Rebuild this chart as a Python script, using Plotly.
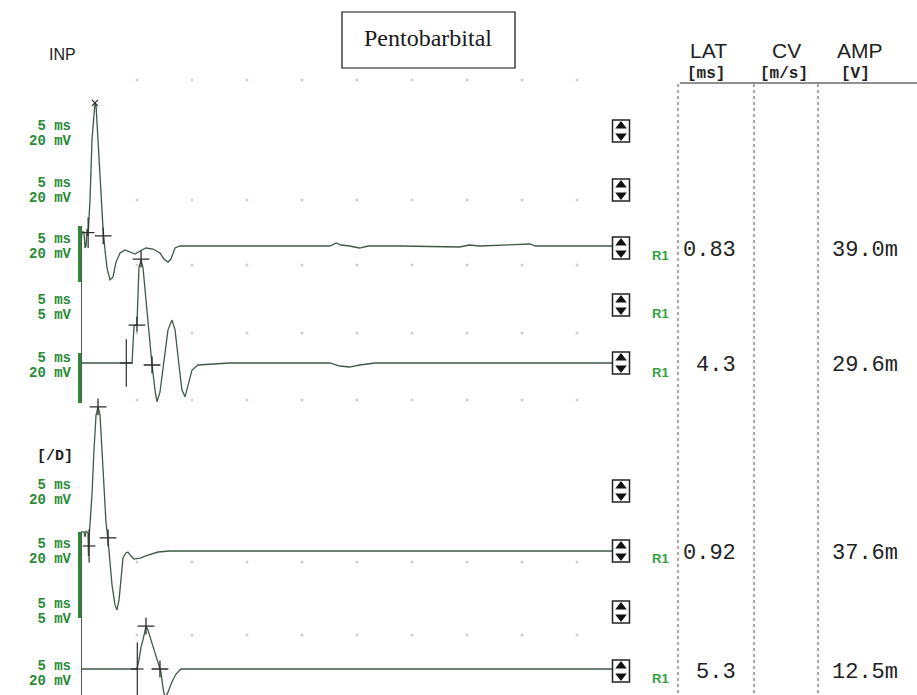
import plotly.graph_objects as go

W, H = 917, 695
PX_PER_MS = 11.0
T0_PX = 79.0
PX_PER_MV = 3.35

# ---------------- data (ms, mV) ----------------
tr3_t = [0.18, 0.27, 0.45, 0.55, 0.64, 0.73, 0.82, 1.0, 1.18, 1.36, 1.45, 1.55, 1.73, 1.91, 2.18, 2.36, 2.55, 2.82,
         3.09, 3.36, 3.73, 4.18, 4.64, 5.09, 5.55, 6.09, 6.73, 7.36, 7.73, 8.09, 8.36, 8.73, 9.18, 11.0, 15.5, 22.8,
         23.4, 23.8, 24.6, 25.5, 26.3, 29.2, 34.6, 35.5, 36.4, 41.0, 41.5, 48.5]
tr3_v = [0.0, 4.2, 4.2, -0.6, 0.0, 5.1, 3.0, 13.7, 31.6, 41.2, 42.7, 41.8, 31.6, 19.7, 5.4, -1.2, -6.6, -10.1,
         -9.3, -4.8, -2.1, -1.2, -1.8, -2.4, -1.5, -0.6, -0.9, -2.1, -3.9, -4.8, -3.9, -0.6, 0.0, 0.0, 0.0, 0.0,
         0.9, 0.3, 0.0, -0.6, 0.0, 0.0, -0.3, 0.3, 0.0, 0.6, 0.0, 0.0]
tr3_peak = ([1.45], [42.7])
tr3_cross = ([2.2], [3.0])

tr5_t = [0.18, 4.27, 4.82, 4.91, 5.0, 5.27, 5.36, 5.45, 5.64, 5.82, 6.09, 6.36, 6.64, 6.91, 7.09, 7.36, 7.73, 8.09,
         8.45, 8.73, 9.09, 9.36, 9.64, 9.91, 10.27, 10.82, 11.9, 13.7, 22.8, 23.7, 24.6, 25.5, 26.9, 48.5]
tr5_v = [0.0, 0.0, 0.0, 5.4, 11.0, 11.6, 18.8, 28.4, 30.7, 28.4, 18.8, 8.4, -0.6, -8.1, -11.6, -8.7, 0.9, 9.9,
         12.8, 9.9, -0.6, -8.1, -10.1, -6.6, -2.1, -0.6, -0.3, 0.0, 0.0, -0.9, -1.2, -0.6, 0.0, 0.0]
tr5_cross = ([5.27, 5.64, 6.64], [11.3, 31.0, -0.6])

tr8_t = [0.18, 0.45, 0.55, 0.64, 0.82, 0.86, 0.95, 1.18, 1.36, 1.55, 1.73, 1.91, 2.09, 2.27, 2.45, 2.64, 2.82, 3.0,
         3.27, 3.45, 3.64, 3.82, 4.0, 4.27, 4.45, 4.73, 5.0, 5.55, 6.27, 7.18, 8.27, 48.5]
tr8_v = [5.7, 5.7, 4.2, 6.0, 5.4, -1.5, 5.7, 16.7, 30.1, 40.6, 43.0, 40.6, 30.1, 18.2, 8.7, 3.3, -2.7, -10.1,
         -16.1, -17.6, -14.6, -7.2, -2.1, -0.6, -0.3, -1.5, -2.4, -2.1, -1.2, -0.3, 0.0, 0.0]
tr8_cross = ([1.73, 2.64], [43.0, 3.9])

tr10_t = [0.18, 5.27, 5.45, 5.55, 5.64, 5.82, 6.0, 6.09, 6.27, 6.55, 6.91, 7.27, 7.45, 7.64, 7.82, 8.09, 8.45,
          8.82, 9.27, 48.5]
tr10_v = [0.0, 0.0, 2.7, 5.7, 6.6, 8.7, 12.2, 12.8, 11.6, 8.7, 5.1, 1.5, -0.9, -5.7, -8.7, -6.9, -3.9, -1.5,
          0.0, 0.0]
tr10_cross = ([6.09, 7.36], [12.8, 0.0])

lat_ms = [0.83, 4.3, 0.92, 5.3]
lat_text = ["0.83", "4.3", "0.92", "5.3"]
amp_text = ["39.0m", "29.6m", "37.6m", "12.5m"]

row_scale_top = [" 5 ms"] * 9
row_scale_bot = ["20 mV", "20 mV", "20 mV", " 5 mV", "20 mV", "20 mV", "20 mV", " 5 mV", "20 mV"]

# ---------------- layout constants (pixels) ----------------
row_label_y = [126, 183, 239, 300, 358, 485, 544, 604, 666]
icon_y = [131, 190, 248, 305, 363, 491, 551, 612, 671]
trace_base = [246, 363, 551, 669]
value_y = [250, 365, 553, 672]
r1_y = [255, 313, 372, 558, 678]
grid_rows = [80, 200, 265, 333, 400, 562, 635]
grid_cols = [137 + 55 * k for k in range(9)]

TRACE_COL = "#3e5a46"
GREEN = "#2a8a36"
MARK_COL = "#2b2b2b"

fig = go.Figure()

# base subplot (needed so overlaying axes render)
fig.add_trace(go.Scatter(x=[None], y=[None], xaxis="x", yaxis="y", mode="markers",
                         hoverinfo="skip", showlegend=False))

# grid dots (pixel layer)
gx, gy = [], []
for r in grid_rows:
    for c in grid_cols:
        gx.append(c)
        gy.append(r)
fig.add_trace(go.Scatter(x=gx, y=gy, xaxis="x2", yaxis="y", mode="markers",
                         marker=dict(size=3, color="#cfcfcf"), hoverinfo="skip", showlegend=False))

traces = [(tr3_t, tr3_v, [tr3_cross], "y2"), (tr5_t, tr5_v, [tr5_cross], "y3"),
          (tr8_t, tr8_v, [tr8_cross], "y4"), (tr10_t, tr10_v, [tr10_cross], "y5")]
lat_vals = [4.0, 0.0, 1.5, 0.0]
lat_sizes = [22, 34, 24, 38]
for i, (t, v, crosses, ya) in enumerate(traces):
    fig.add_trace(go.Scatter(x=t, y=v, xaxis="x", yaxis=ya, mode="lines",
                             line=dict(color=TRACE_COL, width=1.3), hoverinfo="skip", showlegend=False))
    for cx, cy in crosses:
        fig.add_trace(go.Scatter(x=cx, y=cy, xaxis="x", yaxis=ya, mode="markers",
                                 marker=dict(symbol="cross-thin", size=12, line=dict(color=MARK_COL, width=1.3)),
                                 hoverinfo="skip", showlegend=False))
    # latency marker
    fig.add_trace(go.Scatter(x=[lat_ms[i]], y=[lat_vals[i]], xaxis="x", yaxis=ya, mode="markers",
                             marker=dict(symbol="line-ns", size=lat_sizes[i], line=dict(color=MARK_COL, width=1.2)),
                             hoverinfo="skip", showlegend=False))
    fig.add_trace(go.Scatter(x=[lat_ms[i]], y=[lat_vals[i]], xaxis="x", yaxis=ya, mode="markers",
                             marker=dict(symbol="line-ew", size=9, line=dict(color=MARK_COL, width=1.2)),
                             hoverinfo="skip", showlegend=False))

fig.add_trace(go.Scatter(x=tr3_peak[0], y=tr3_peak[1], xaxis="x", yaxis="y2", mode="markers",
                         marker=dict(symbol="x-thin", size=6, line=dict(color=MARK_COL, width=1.2)),
                         hoverinfo="skip", showlegend=False))

# scroll icons
fig.add_trace(go.Scatter(x=[621] * len(icon_y), y=[c - 5 for c in icon_y], xaxis="x2", yaxis="y",
                         mode="markers", marker=dict(symbol="triangle-up", size=10, color="#111"),
                         hoverinfo="skip", showlegend=False))
fig.add_trace(go.Scatter(x=[621] * len(icon_y), y=[c + 5 for c in icon_y], xaxis="x2", yaxis="y",
                         mode="markers", marker=dict(symbol="triangle-down", size=10, color="#111"),
                         hoverinfo="skip", showlegend=False))

shapes = []
for c in icon_y:
    shapes.append(dict(type="rect", xref="x2", yref="y", x0=612.5, x1=629.5, y0=c - 11, y1=c + 11,
                       line=dict(color="#222", width=1.5), layer="above"))
# title box
shapes.append(dict(type="rect", xref="x2", yref="y", x0=342, x1=515, y0=12, y1=68,
                   line=dict(color="#111", width=1.2)))
# table lines
shapes.append(dict(type="line", xref="x2", yref="y", x0=680, x1=917, y0=83, y1=83,
                   line=dict(color="#222", width=1.2)))
for xv in [678, 754, 818]:
    shapes.append(dict(type="line", xref="x2", yref="y", x0=xv, x1=xv, y0=84, y1=695,
                       line=dict(color="#555", width=1, dash="dot")))
# scale bars at trace origin
shapes.append(dict(type="line", xref="x2", yref="y", x0=81.5, x1=81.5, y0=226, y1=403,
                   line=dict(color="#555", width=1)))
shapes.append(dict(type="line", xref="x2", yref="y", x0=79.5, x1=79.5, y0=226, y1=282,
                   line=dict(color=GREEN, width=3)))
shapes.append(dict(type="line", xref="x2", yref="y", x0=79.5, x1=79.5, y0=353, y1=403,
                   line=dict(color=GREEN, width=3)))
shapes.append(dict(type="line", xref="x2", yref="y", x0=81.5, x1=81.5, y0=532, y1=695,
                   line=dict(color="#555", width=1)))
shapes.append(dict(type="line", xref="x2", yref="y", x0=79.5, x1=79.5, y0=532, y1=618,
                   line=dict(color=GREEN, width=3)))

ann = []
def A(x, y, text, size, color="#222", family="Liberation Sans", anchor="center", bold=False):
    if bold:
        text = "<b>" + text + "</b>"
    ann.append(dict(x=x, y=y, xref="x2", yref="y", text=text, showarrow=False, xanchor=anchor,
                    yanchor="middle", font=dict(size=size, color=color, family=family), borderpad=0))

A(428, 38, "Pentobarbital", 24, color="#1a1a1a", family="Liberation Serif")
A(62, 54, "INP", 16, color="#222")
A(55, 456, "[/D]", 15, color="#222", family="Liberation Mono", bold=True)
for i, y in enumerate(row_label_y):
    A(28, y, row_scale_top[i], 14, color=GREEN, family="Liberation Mono", anchor="left", bold=True)
    A(28, y + 15, row_scale_bot[i], 14, color=GREEN, family="Liberation Mono", anchor="left", bold=True)

A(708, 50, "LAT", 21)
A(786, 50, "CV", 21)
A(860, 50, "AMP", 21)
A(706, 74, "[ms]", 16, family="Liberation Mono", bold=True)
A(784, 74, "[m/s]", 16, family="Liberation Mono", bold=True)
A(855, 74, "[V]", 16, family="Liberation Mono", bold=True)

for i, y in enumerate(value_y):
    A(737, y, lat_text[i], 22, family="Liberation Mono", anchor="right")
    A(899, y, amp_text[i], 22, family="Liberation Mono", anchor="right")
for y in r1_y:
    A(660, y, "R1", 13, color="#33a040", bold=True)

layout_axes = dict(
    xaxis=dict(range=[-T0_PX / PX_PER_MS, (W - T0_PX) / PX_PER_MS], visible=False, domain=[0, 1]),
    xaxis2=dict(range=[0, W], visible=False, overlaying="x", domain=[0, 1]),
    yaxis=dict(range=[H, 0], visible=False, domain=[0, 1]),
)
for k, b in enumerate(trace_base):
    layout_axes["yaxis%d" % (k + 2)] = dict(range=[-(H - b) / PX_PER_MV, b / PX_PER_MV], visible=False,
                                            overlaying="y", domain=[0, 1])

fig.update_layout(width=W, height=H, margin=dict(l=0, r=0, t=0, b=0), plot_bgcolor="white",
                  paper_bgcolor="white", shapes=shapes, annotations=ann, **layout_axes)
fig.write_html("out.html", config={"displayModeBar": False})
